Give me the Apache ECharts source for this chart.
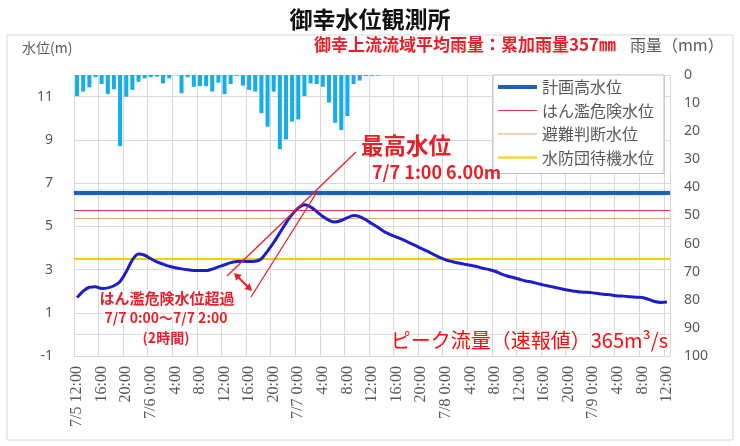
<!DOCTYPE html>
<html lang="ja">
<head>
<meta charset="UTF-8">
<title>御幸水位観測所</title>
<script src="https://cdn.jsdelivr.net/npm/echarts@6/dist/echarts.min.js"></script>
<style>
  html, body { margin: 0; padding: 0; background: #fff; }
  #main { width: 740px; height: 446px; }
</style>
</head>
<body>
<div id="main"></div>
<script>
// hourly, 7/5 12:00 .. 7/9 12:00
var days = ['7/5', '7/6', '7/7', '7/8', '7/9'];

var rain = [
  7.5, 5.9, 4.4, 0.8, 3.2, 6.8, 5.1, 25.3, 7.7, 5.3, 2.4, 1.2,
  0.8, 0.6, 3.0, 1.2, 0, 6.5, 0.8, 4.2, 4.0, 4.0, 5.9, 2.7,
  6.8, 3.2, 0.3, 3.8, 5.3, 5.9, 13.6, 18.4, 5.9, 26.4, 22.9, 16.6,
  15.8, 7.5, 3.0, 3.2, 4.2, 9.8, 17.0, 19.6, 14.6, 3.2, 2.0, 0.4,
  0.3, 0.2, 0, 0, 0, 0, 0, 0, 0, 0, 0, 0,
  0, 0, 0, 0, 0, 0, 0, 0, 0, 0, 0, 0,
  0, 0, 0, 0, 0, 0, 0, 0, 0, 0, 0, 0,
  0, 0, 0, 0, 0, 0, 0, 0, 0, 0, 0, 0,
  0
];

var waterLevel = [
  1.70, 2.00, 2.18, 2.20, 2.12, 2.15, 2.25, 2.45, 2.90, 3.45, 3.72, 3.66,
  3.50, 3.35, 3.25, 3.15, 3.08, 3.03, 2.99, 2.96, 2.95, 2.95, 3.02, 3.12,
  3.22, 3.32, 3.37, 3.38, 3.37, 3.38, 3.50, 3.85, 4.25, 4.70, 5.15, 5.55,
  5.85, 6.00, 5.90, 5.68, 5.45, 5.28, 5.20, 5.27, 5.40, 5.50, 5.45, 5.30,
  5.12, 4.95, 4.75, 4.62, 4.50, 4.38, 4.25, 4.12, 3.98, 3.85, 3.70, 3.56,
  3.45, 3.37, 3.30, 3.25, 3.20, 3.14, 3.06, 3.00, 2.92, 2.80, 2.70, 2.63,
  2.55, 2.47, 2.42, 2.35, 2.28, 2.22, 2.16, 2.10, 2.04, 2.00, 1.96, 1.95,
  1.92, 1.88, 1.85, 1.82, 1.78, 1.77, 1.74, 1.72, 1.71, 1.62, 1.52, 1.48,
  1.50
];

var levelNames = ['計画高水位', 'はん濫危険水位', '避難判断水位', '水防団待機水位'];
var levelValues = [6.56, 5.76, 5.38, 3.50];
var levelColors = ['#1f5fb4', '#e0394a', '#e3a46a', '#f2d000'];
var levelWidths = [4, 1, 1, 2];

var categories = [];
for (var i = 0; i < rain.length; i++) {
  var h = (12 + i) % 24;
  var d = Math.floor((12 + i) / 24);
  categories.push((i == 0 || h == 0) ? days[d] + ' ' + h + ':00' : h + ':00');
}

var jp = 'Noto Sans CJK JP';
var red = '#e8202a';

var series = [
  {
    name: '雨量',
    type: 'bar',
    yAxisIndex: 1,
    data: rain,
    barWidth: '66%',
    itemStyle: { color: '#16aee8' },
    z: 1
  },
  {
    name: '水位',
    type: 'line',
    yAxisIndex: 0,
    data: waterLevel,
    smooth: 0.3,
    symbol: 'none',
    lineStyle: { color: '#1d1dc9', width: 3 },
    itemStyle: { color: '#1d1dc9' },
    z: 5
  }
];

var legendData = [];
for (var k = 0; k < levelNames.length; k++) {
  series.push({
    name: levelNames[k],
    type: 'line',
    yAxisIndex: 0,
    data: [],
    symbol: 'none',
    itemStyle: { color: levelColors[k] },
    lineStyle: { color: levelColors[k], width: levelWidths[k] },
    markLine: {
      silent: true,
      symbol: 'none',
      label: { show: false },
      lineStyle: {
        color: levelColors[k],
        width: levelWidths[k],
        type: 'solid',
        shadowColor: k == 0 ? '#a8d8f5' : 'rgba(0,0,0,0)',
        shadowBlur: k == 0 ? 4 : 0
      },
      data: [{ yAxis: levelValues[k] }]
    },
    z: 3
  });
  // flat bar as the legend icon, as thick as the line
  legendData.push({
    name: levelNames[k],
    icon: 'path://M0,0H39V' + levelWidths[k] + 'H0Z'
  });
}

// small double arrow for the exceedance duration
function arrowHead(tx, ty, dx, dy) {
  var len = Math.sqrt(dx * dx + dy * dy);
  var ux = dx / len, uy = dy / len;
  var bx = tx - ux * 7, by = ty - uy * 7;
  return {
    type: 'polygon',
    shape: { points: [[tx, ty], [bx - uy * 4, by + ux * 4], [bx + uy * 4, by - ux * 4]] },
    style: { fill: red },
    z: 20
  };
}

var graphics = [
  {
    type: 'rect',
    shape: { x: 7, y: 35, width: 726, height: 405 },
    style: { fill: 'none', stroke: '#d9d9d9', lineWidth: 1 },
    z: 0
  },
  {
    type: 'text', left: 22, top: 41,
    style: { text: '水位(m)', font: '14px "Noto Sans CJK JP"', fill: '#595959' }
  },
  {
    type: 'text', left: 630, top: 37,
    style: { text: '雨量（mm）', font: '16px "Noto Sans CJK JP"', fill: '#595959' }
  },
  {
    type: 'text', left: 314, top: 36,
    style: { text: '御幸上流流域平均雨量：累加雨量357㎜', font: 'bold 17px "Noto Sans CJK JP"', fill: red }
  },
  {
    type: 'text', left: 361, top: 134, z: 20,
    style: { text: '最高水位', font: 'bold 22.5px "Noto Sans CJK JP"', fill: red }
  },
  {
    type: 'text', left: 372, top: 163, z: 20,
    style: { text: '7/7 1:00 6.00m', font: 'bold 18px "Noto Sans CJK JP"', fill: red }
  },
  {
    type: 'text', x: 167, y: 298, z: 20,
    style: {
      text: 'はん濫危険水位超過', font: 'bold 15px "Noto Sans CJK JP"', fill: red,
      align: 'center', verticalAlign: 'middle', stroke: '#fff', lineWidth: 3
    }
  },
  {
    type: 'text', x: 166, y: 318, z: 20,
    style: {
      text: '7/7 0:00〜7/7 2:00', font: 'bold 14px "Noto Sans CJK JP"', fill: red,
      align: 'center', verticalAlign: 'middle', stroke: '#fff', lineWidth: 3
    }
  },
  {
    type: 'text', x: 166, y: 338, z: 20,
    style: {
      text: '(2時間)', font: 'bold 14px "Noto Sans CJK JP"', fill: red,
      align: 'center', verticalAlign: 'middle', stroke: '#fff', lineWidth: 3
    }
  },
  {
    type: 'text', x: 668, y: 340, z: 20,
    style: {
      text: 'ピーク流量（速報値）365m³/s', font: '20px "Noto Sans CJK JP"', fill: '#ff0a0a',
      align: 'right', verticalAlign: 'middle', stroke: '#fff', lineWidth: 3
    }
  },
  {
    type: 'line', z: 20,
    shape: { x1: 227, y1: 276, x2: 356, y2: 152 },
    style: { stroke: red, lineWidth: 1.3 }
  },
  {
    type: 'line', z: 20,
    shape: { x1: 251, y1: 297, x2: 317, y2: 192 },
    style: { stroke: red, lineWidth: 1.3 }
  },
  {
    type: 'line', z: 20,
    shape: { x1: 238, y1: 277, x2: 248, y2: 287 },
    style: { stroke: red, lineWidth: 2 }
  },
  arrowHead(234, 273, -1, -1),
  arrowHead(252, 291, 1, 1)
];

var chart = echarts.init(document.getElementById('main'));
chart.setOption({
  animation: false,
  backgroundColor: '#fff',
  title: {
    text: '御幸水位観測所',
    left: 'center',
    top: 3,
    textStyle: { fontFamily: jp, fontSize: 23, fontWeight: 'bold', color: '#111' }
  },
  legend: {
    data: legendData,
    orient: 'vertical',
    left: 493,
    top: 75,
    padding: [2, 10, 6, 5],
    itemGap: 3.5,
    itemWidth: 39,
    itemHeight: 14,
    backgroundColor: '#fff',
    borderColor: '#bfbfbf',
    borderWidth: 1,
    borderRadius: 0,
    textStyle: { fontFamily: jp, fontSize: 16, color: '#595959', lineHeight: 20 }
  },
  grid: { left: 74, right: 70, top: 75, bottom: 90 },
  xAxis: {
    type: 'category',
    data: categories,
    boundaryGap: true,
    axisLine: { lineStyle: { color: '#d9d9d9' } },
    axisTick: { show: false },
    axisLabel: {
      interval: 3,
      rotate: 90,
      margin: 10,
      fontFamily: 'Liberation Serif',
      fontSize: 16,
      color: '#595959'
    },
    splitLine: { show: true, interval: 3, lineStyle: { color: '#d9d9d9' } }
  },
  yAxis: [
    {
      type: 'value',
      min: -1,
      max: 12,
      interval: 2,
      axisLine: { show: true, lineStyle: { color: '#d9d9d9' } },
      axisTick: { show: false },
      axisLabel: { showMaxLabel: false, margin: 21, fontFamily: 'Noto Sans', fontSize: 14, color: '#595959' },
      splitLine: { lineStyle: { color: '#d9d9d9' } }
    },
    {
      type: 'value',
      min: 0,
      max: 100,
      interval: 10,
      inverse: true,
      position: 'right',
      axisLine: { show: true, lineStyle: { color: '#d9d9d9' } },
      axisTick: { show: false },
      axisLabel: { margin: 14, fontFamily: 'Noto Sans', fontSize: 14, color: '#595959' },
      splitLine: { show: false }
    }
  ],
  series: series,
  graphic: graphics
});
</script>
</body>
</html>
